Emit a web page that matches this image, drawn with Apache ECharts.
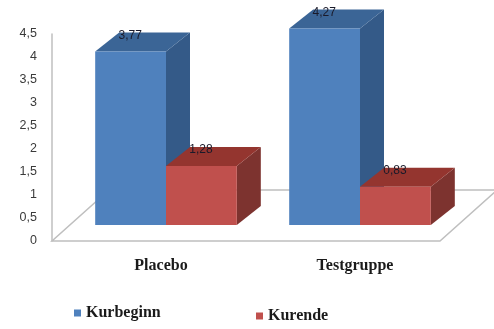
<!DOCTYPE html>
<html>
<head>
<meta charset="utf-8">
<style>html,body{margin:0;padding:0;background:#fff}#chart{width:494px;height:329px}</style>
<script src="https://cdn.jsdelivr.net/npm/echarts@6/dist/echarts.min.js"></script>
</head>
<body>
<div id="chart"></div>
<script>
const categories = ['Placebo', 'Testgruppe'];
const seriesNames = ['Kurbeginn', 'Kurende'];
const kurbeginn = [3.77, 4.27];
const kurende = [1.28, 0.83];
const yTicks = { min: 0, max: 4.5, interval: 0.5 };

const faces = {
  Kurbeginn: { front: '#4f81bd', top: '#3b6596', side: '#345a88' },
  Kurende: { front: '#c0504d', top: '#94352f', side: '#7d332f' }
};

// Oblique projection used for the pseudo 3D look
const floorDepth = { dx: 57, dy: 51 };
const barInset = { dx: 17, dy: 16 };
const barDepth = { dx: 24, dy: 19 };
const barShare = 0.365;

const comma = v => String(v).replace('.', ',');

function renderFloor(params, api) {
  const g = params.coordSys;
  const bottom = g.y + g.height;
  const right = g.x + g.width;
  return {
    type: 'group',
    children: [{
      type: 'polygon',
      shape: { points: [
        [g.x, bottom], [right, bottom],
        [right + floorDepth.dx, bottom - floorDepth.dy],
        [g.x + floorDepth.dx, bottom - floorDepth.dy]
      ] },
      style: { fill: '#fff', stroke: '#bfbfbf', lineWidth: 1.5 }
    }]
  };
}

function barRenderer(seriesPos, name) {
  return function (params, api) {
    const cat = api.value(0);
    const val = api.value(1);
    const c = faces[name];
    const band = api.size([1, 0])[0];
    const w = band * barShare;
    const zero = api.coord([cat, 0]);
    const tip = api.coord([cat, val]);
    const x0 = zero[0] + barInset.dx + (seriesPos - 1) * w;
    const x1 = x0 + w;
    const y0 = zero[1] - barInset.dy;
    const y1 = tip[1] - barInset.dy;
    const dx = barDepth.dx, dy = barDepth.dy;
    return {
      type: 'group',
      children: [
        { type: 'polygon',
          shape: { points: [[x1, y1], [x1 + dx, y1 - dy], [x1 + dx, y0 - dy], [x1, y0]] },
          style: { fill: c.side } },
        { type: 'polygon',
          shape: { points: [[x0, y1], [x0 + dx, y1 - dy], [x1 + dx, y1 - dy], [x1, y1]] },
          style: { fill: c.top } },
        { type: 'rect',
          shape: { x: x0, y: y1, width: w, height: y0 - y1 },
          style: { fill: c.front } },
        { type: 'text',
          style: {
            x: x0 + 35, y: y1 - 16, text: comma(val),
            align: 'center', verticalAlign: 'middle',
            fill: '#1a1a2a', font: '12px "Liberation Sans", Arial, sans-serif'
          } }
      ]
    };
  };
}

const legendText = {
  color: '#1a1a1a', fontFamily: '"Liberation Serif", serif', fontWeight: 'bold', fontSize: 16
};

const chart = echarts.init(document.getElementById('chart'), null, { renderer: 'canvas' });
chart.setOption({
  backgroundColor: '#fff',
  animation: false,
  grid: { left: 52, top: 34, width: 388, height: 207, containLabel: false },
  legend: [
    { data: [seriesNames[0]], left: 74, top: 305, icon: 'rect', itemWidth: 7, itemHeight: 7, itemGap: 0,
      selectedMode: false, textStyle: legendText, padding: 0 },
    { data: [seriesNames[1]], left: 256, top: 308, icon: 'rect', itemWidth: 7, itemHeight: 7, itemGap: 0,
      selectedMode: false, textStyle: legendText, padding: 0 }
  ],
  xAxis: {
    type: 'category',
    data: categories,
    axisLine: { show: false },
    axisTick: { show: false },
    axisLabel: {
      margin: 17, padding: [0, 0, 0, 24],
      color: '#1a1a1a', fontFamily: '"Liberation Serif", serif', fontWeight: 'bold', fontSize: 16
    }
  },
  yAxis: {
    type: 'value',
    min: yTicks.min, max: yTicks.max, interval: yTicks.interval,
    axisLine: { show: true, lineStyle: { color: '#bfbfbf', width: 1.5 } },
    axisTick: { show: false },
    splitLine: { show: false },
    axisLabel: {
      margin: 15, padding: [4, 0, 0, 0],
      color: '#3a3a3a', fontFamily: '"Liberation Sans", Arial, sans-serif', fontSize: 12.5,
      formatter: comma
    }
  },
  series: [
    { type: 'custom', name: 'Boden', silent: true, z: 1, renderItem: renderFloor, data: [[0, 0]] },
    { type: 'custom', name: seriesNames[0], z: 2, itemStyle: { color: faces.Kurbeginn.front },
      renderItem: barRenderer(0, seriesNames[0]), encode: { x: 0, y: 1 },
      data: kurbeginn.map((v, i) => [i, v]) },
    { type: 'custom', name: seriesNames[1], z: 3, itemStyle: { color: faces.Kurende.front },
      renderItem: barRenderer(1, seriesNames[1]), encode: { x: 0, y: 1 },
      data: kurende.map((v, i) => [i, v]) }
  ]
});
</script>
</body>
</html>
